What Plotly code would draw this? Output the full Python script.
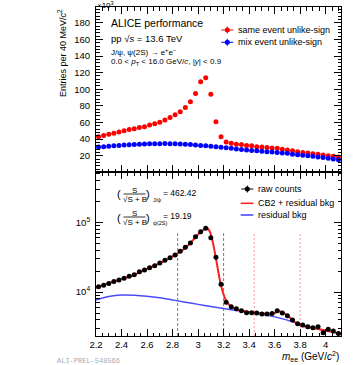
import plotly.graph_objects as go

# ---------------- data ----------------
mass = [2.22, 2.26, 2.30, 2.34, 2.38, 2.42, 2.46, 2.50, 2.54, 2.58, 2.62, 2.66,
        2.70, 2.74, 2.78, 2.82, 2.86, 2.90, 2.94, 2.98, 3.02, 3.06, 3.10, 3.14,
        3.18, 3.22, 3.26, 3.30, 3.34, 3.38, 3.42, 3.46, 3.50, 3.54, 3.58, 3.62,
        3.66, 3.70, 3.74, 3.78, 3.82, 3.86, 3.90, 3.94, 3.98, 4.02, 4.06, 4.10]

# entries per 40 MeV/c^2 (x10^3)
same_event = [43, 44.5, 46, 47, 48.5, 50, 51.5, 52.5, 54, 55, 57, 58.5,
              60.5, 63, 66, 69.5, 73, 78, 85, 95, 109, 114, 94, 61,
              43, 36.5, 35, 34, 33.5, 32.5, 32, 31, 30.5, 30, 29.5, 29,
              28, 27, 26, 25, 24, 23.5, 22.5, 22, 21, 20, 19.5, 18.5]
mix_event = [30.5, 31, 31.5, 32, 32.5, 33, 33.3, 33.6, 34, 34.2, 34.4, 34.5,
             34.6, 34.7, 34.6, 34.4, 34.2, 33.9, 33.5, 33, 32.5, 32, 31.5, 31,
             30.3, 29.6, 29, 28.3, 27.7, 27, 26.5, 26, 25.5, 25, 24.5, 24,
             23.5, 23, 22, 21.3, 20.7, 20, 19.3, 18.6, 18, 17, 16, 15.2]

raw_counts = [11900, 12500, 13300, 14100, 14900, 15700, 16800, 17700, 19500, 20700, 22300, 23800,
              26000, 28500, 31000, 34000, 38400, 43800, 50400, 62100, 73300, 82000, 60000, 31500,
              12900, 7110, 6150, 5760, 5390, 5050, 5050, 5000, 4830, 4830, 4900, 5390,
              5000, 4570, 3960, 3510, 3360, 3180, 3080, 3180, 2610, 2920, 2760, 2550]

fit_mass = [2.2, 2.3, 2.4, 2.5, 2.6, 2.7, 2.8, 2.86, 2.9, 2.94, 2.98, 3.02, 3.05, 3.07,
            3.09, 3.11, 3.13, 3.15, 3.17, 3.19, 3.21, 3.23, 3.26, 3.3, 3.4, 3.5, 3.56,
            3.6, 3.63, 3.66, 3.7, 3.74, 3.78, 3.82, 3.9, 4.0, 4.12]
fit_total = [11500, 13400, 15300, 17700, 21500, 26000, 32500, 38000, 43000, 50500, 61000,
             72500, 80000, 83000, 75000, 57000, 38000, 24000, 15000, 10500, 8200, 7000, 6200,
             5650, 5150, 4920, 4900, 5000, 5300, 5150, 4600, 3950, 3480, 3250, 3050, 2800, 2520]

bkg_mass = [2.2, 2.3, 2.4, 2.5, 2.6, 2.7, 2.8, 2.9, 3.0, 3.1, 3.2, 3.3, 3.4, 3.5, 3.6,
            3.7, 3.8, 3.9, 4.0, 4.12]
bkg_resid = [7700, 8600, 9050, 9000, 8700, 8250, 7700, 7150, 6650, 6200, 5800, 5450,
             5150, 4800, 4400, 3950, 3420, 3050, 2800, 2520]

jpsi_window = [2.84, 3.2]
psi2s_window = [3.44, 3.8]
window_top = 7.0e4

x_ticks = [2.2, 2.4, 2.6, 2.8, 3.0, 3.2, 3.4, 3.6, 3.8, 4.0]
x_ticktext = ["2.2", "2.4", "2.6", "2.8", "3", "3.2", "3.4", "3.6", "3.8", "4"]

# ---------------- layout geometry ----------------
W, H = 354, 365
L, R, T, B = 96, 13, 7, 29
PW, PH = W - L - R, H - T - B
split = (336 - 172) / PH
ylog_range = [3.369, 5.722]
FONT = "Liberation Sans, Arial, sans-serif"


def px(x):
    return (x - L) / PW


def py(y):
    return (T + PH - y) / PH


fig = go.Figure()

# top panel
fig.add_trace(go.Scatter(x=mass, y=same_event, mode="markers",
                         marker=dict(color="#ff0000", size=5), xaxis="x", yaxis="y",
                         showlegend=False))
fig.add_trace(go.Scatter(x=mass, y=mix_event, mode="markers",
                         marker=dict(color="#0000ff", size=5), xaxis="x", yaxis="y",
                         showlegend=False))

# bottom panel window lines
for w in jpsi_window:
    fig.add_trace(go.Scatter(x=[w, w], y=[10 ** ylog_range[0], window_top], mode="lines",
                             line=dict(color="#555555", width=0.8, dash="3px,2px"),
                             xaxis="x2", yaxis="y2", showlegend=False, hoverinfo="skip"))
for w in psi2s_window:
    fig.add_trace(go.Scatter(x=[w, w], y=[10 ** ylog_range[0], window_top], mode="lines",
                             line=dict(color="#ff8080", width=0.8, dash="2px,2px"),
                             xaxis="x2", yaxis="y2", showlegend=False, hoverinfo="skip"))

fig.add_trace(go.Scatter(x=bkg_mass, y=bkg_resid, mode="lines", line_shape="spline",
                         line=dict(color="#4a4aff", width=1.5), xaxis="x2", yaxis="y2",
                         showlegend=False))
fig.add_trace(go.Scatter(x=fit_mass, y=fit_total, mode="lines", line_shape="spline",
                         line=dict(color="#ff2020", width=2), xaxis="x2", yaxis="y2",
                         showlegend=False))
fig.add_trace(go.Scatter(x=mass, y=raw_counts, mode="markers",
                         marker=dict(color="#000000", size=5), xaxis="x2", yaxis="y2",
                         showlegend=False))

# legend glyphs on a pixel overlay axis
leg_marker_x = [227.3, 227.3, 247.3]
leg_marker_y = [30, 42.3, 189]
leg_marker_c = ["#ff0000", "#0000ff", "#000000"]
for xx, yy, cc in zip(leg_marker_x, leg_marker_y, leg_marker_c):
    fig.add_trace(go.Scatter(x=[xx], y=[yy], mode="markers",
                             marker=dict(color=cc, size=5),
                             error_x=dict(type="constant", value=6, color=cc, thickness=1, width=0),
                             error_y=dict(type="constant", value=3.5, color=cc, thickness=1, width=0),
                             xaxis="x3", yaxis="y3", showlegend=False, hoverinfo="skip"))
for yy, cc in [(203.3, "#ff2020"), (215, "#4a4aff")]:
    fig.add_trace(go.Scatter(x=[240.7, 253.3], y=[yy, yy], mode="lines",
                             line=dict(color=cc, width=1.6), xaxis="x3", yaxis="y3",
                             showlegend=False, hoverinfo="skip"))

axis_common = dict(showline=True, linecolor="black", linewidth=1, mirror="allticks",
                   ticks="inside", tickcolor="black", showgrid=False, zeroline=False,
                   tickfont=dict(family=FONT, size=9.5, color="black"))

fig.update_layout(
    width=W, height=H, margin=dict(l=L, r=R, t=T, b=B),
    paper_bgcolor="white", plot_bgcolor="rgba(0,0,0,0)",
    font=dict(family=FONT, color="black"),
    xaxis=dict(domain=[0, 1], anchor="y", range=[2.2, 4.12], tickvals=x_ticks,
               showticklabels=False, ticklen=7,
               minor=dict(ticks="inside", dtick=0.05, tick0=2.2, ticklen=3.5, tickcolor="black"),
               **axis_common),
    yaxis=dict(domain=[split, 1], anchor="x", range=[0.5, 199], tickvals=[20, 40, 60, 80, 100, 120, 140, 160, 180],
               ticklen=7, ticklabelstandoff=3,
               minor=dict(ticks="inside", dtick=4, tick0=0, ticklen=3.5, tickcolor="black"),
               **axis_common),
    xaxis2=dict(domain=[0, 1], anchor="y2", range=[2.2, 4.12], tickvals=x_ticks, ticktext=x_ticktext,
                ticklen=7, ticklabelstandoff=0,
                minor=dict(ticks="inside", dtick=0.05, tick0=2.2, ticklen=3.5, tickcolor="black"),
                **axis_common),
    yaxis2=dict(domain=[0, split], anchor="x2", type="log", range=ylog_range,
                tickvals=[1e4, 1e5], ticktext=["10<sup>4</sup>", "10<sup>5</sup>"],
                ticklen=7, ticklabelstandoff=3,
                minor=dict(ticks="inside", ticklen=3.5, tickcolor="black",
                           tickvals=[3e3, 4e3, 5e3, 6e3, 7e3, 8e3, 9e3, 2e4, 3e4, 4e4, 5e4,
                                     6e4, 7e4, 8e4, 9e4, 2e5, 3e5, 4e5, 5e5]),
                **axis_common),
    xaxis3=dict(domain=[0, 1], anchor="y3", range=[L, W - R], visible=False),
    yaxis3=dict(domain=[0, 1], anchor="x3", range=[T + PH, T], visible=False),
)

anns = []


def txt(x, y, s, size, xanchor="left", yanchor="middle", color="black", family=FONT, angle=0):
    anns.append(dict(x=px(x), y=py(y), xref="paper", yref="paper", text=s, showarrow=False,
                     xanchor=xanchor, yanchor=yanchor, textangle=angle,
                     font=dict(size=size, color=color, family=family)))


txt(95, 5, "×10<sup>3</sup>", 8)
txt(62, 53, "Entries per 40 MeV/<i>c</i><sup>2</sup>", 9, xanchor="center", angle=-90)
txt(109, 22.7, "ALICE performance", 10.5)
txt(109, 38, "pp √<i>s</i> = 13.6 TeV", 9.5)
txt(109, 52, "J/ψ, ψ(2S) → e<sup>+</sup>e<sup>−</sup>", 8)
txt(109, 62.5, "0.0 < <i>p</i><sub>T</sub> < 16.0 GeV/<i>c</i>, |<i>y</i>| < 0.9", 8)
txt(235.7, 30, "same event unlike-sign", 9)
txt(235.7, 42.3, "mix event unlike-sign", 9)

txt(256, 189, "raw counts", 9)
txt(256, 203.3, "CB2 + residual bkg", 9)
txt(256, 215, "residual bkg", 9)

# S/sqrt(S+B) labels
for yc, sub, val in [(194.5, "J/ψ", "= 462.42"), (217.5, "ψ(2S)", "= 19.19")]:
    txt(118.5, yc, "(", 11, xanchor="center")
    txt(134.5, yc - 4.3, "S", 8, xanchor="center")
    txt(134.5, yc + 4.6, "√S + B", 8, xanchor="center")
    txt(148, yc, ")", 11, xanchor="center")
    txt(151, yc + 5, sub, 5.5)
    txt(161, yc - 1.5, val, 8.5)
    fig.add_shape(type="line", xref="paper", yref="paper", x0=px(123.5), x1=px(145.5),
                  y0=py(yc - 0.5), y1=py(yc - 0.5), line=dict(color="black", width=0.8))

txt(341, 356.5, "<i>m</i><sub>ee</sub> (GeV/<i>c</i><sup>2</sup>)", 10, xanchor="right")
txt(55, 361, "ALI-PREL-548566", 7, color="#aaaaaa", family="Liberation Mono, DejaVu Sans Mono, monospace")

fig.update_layout(annotations=anns)
fig.write_html("out.html", post_script="document.body.style.margin='0px';",
               config={"displayModeBar": False})
